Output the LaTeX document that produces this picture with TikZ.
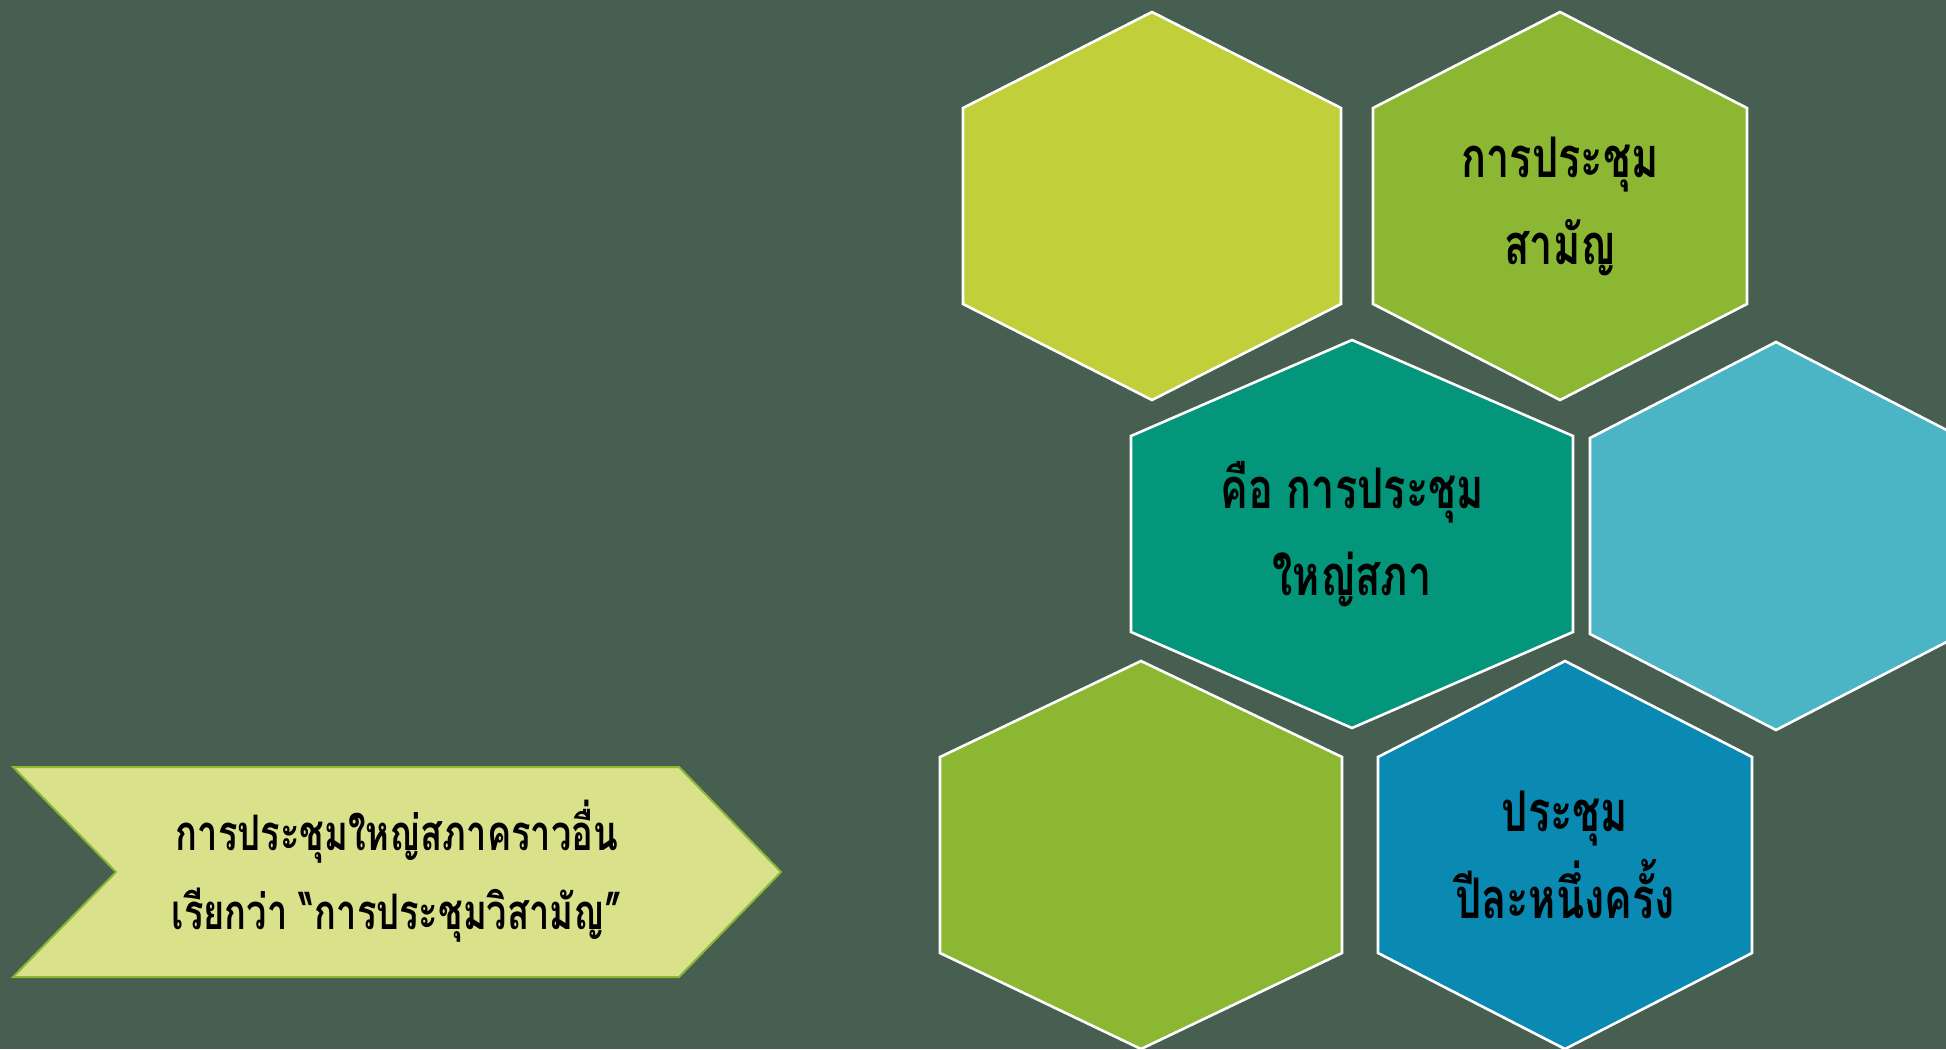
\documentclass[tikz,border=0pt]{standalone}
\usepackage{fontspec}
\usepackage{xcolor}
\usepackage{tikz}
\newfontfamily\thaifont[Script=Thai, FakeStretch=0.74]{Loma}
\definecolor{bgslate}{HTML}{465F51}
\definecolor{hexlime}{HTML}{C0CF3A}
\definecolor{hexgreen}{HTML}{8BB733}
\definecolor{hexteal}{HTML}{03967A}
\definecolor{hexsky}{HTML}{4BB4C5}
\definecolor{hexblue}{HTML}{0A89B2}
\definecolor{chevfill}{HTML}{D9E28B}
\usetikzlibrary{calc}

\begin{document}
\begin{tikzpicture}[x = 0.5pt, y = -0.5pt,
    hexline/.style = {draw = white, line width = 1.3pt},
    thaitext/.style = {font = \thaifont\bfseries\fontsize{28}{43.5}\selectfont, align = center, text = black}]
  \useasboundingbox (0, 0) rectangle (1946, 1049);
  \clip (0, 0) rectangle (1946, 1049);
  \fill[bgslate] (0, 0) rectangle (1946, 1049);
  \foreach \name/\cx/\cy/\hw/\col in {
      limehex/1152/206/189/hexlime,
      greenhex/1560/206/187/hexgreen,
      tealhex/1352/534/221/hexteal,
      skyhex/1776/536/186/hexsky,
      leafhex/1141/855/201/hexgreen,
      bluehex/1565/855/187/hexblue} {
    \draw[hexline, fill = \col] (\cx, \cy-194) -- (\cx+\hw, \cy-98) -- (\cx+\hw, \cy+98)
      -- (\cx, \cy+194) -- (\cx-\hw, \cy+98) -- (\cx-\hw, \cy-98) -- cycle;
    \coordinate (\name) at (\cx, \cy);
  }
  \draw[draw = hexgreen, fill = chevfill, line width = 1pt]
    (13, 767) -- (679, 767) -- (781, 872) -- (679, 977) -- (13, 977) -- (116, 872) -- cycle;
  \coordinate (chevron) at (397, 871);

  \node[thaitext] (ordinary) at (greenhex) {การประชุม\\สามัญ};
  \node[thaitext] (general) at (tealhex) {คือ การประชุม\\ใหญ่สภา};
  \node[thaitext] (yearly) at (bluehex) {ประชุม\\ปีละหนึ่งครั้ง};
  \node[thaitext, font = \thaifont\bfseries\fontsize{24.5}{39.5}\selectfont] (special) at (chevron)
    {การประชุมใหญ่สภาคราวอื่น\\เรียกว่า “การประชุมวิสามัญ”};
%  \node[thaitext] at (limehex) {};
\end{tikzpicture}
\end{document}
